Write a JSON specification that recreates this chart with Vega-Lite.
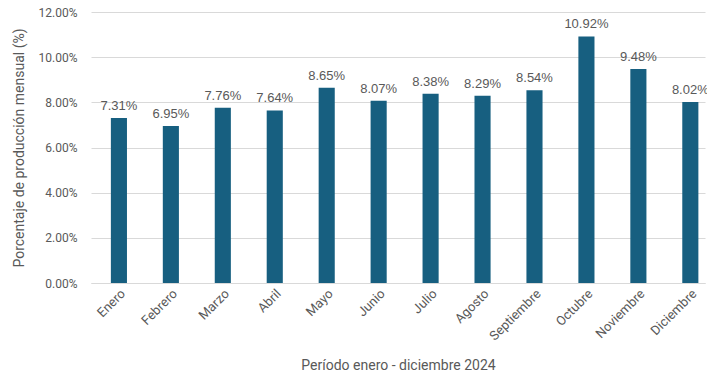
{
  "$schema": "https://vega.github.io/schema/vega-lite/v6.json",
  "width": 707,
  "height": 379,
  "autosize": {"type": "fit", "contains": "padding"},
  "padding": {"left": 12, "top": 6, "right": 0, "bottom": 6},
  "background": "white",
  "config": {
    "view": {"stroke": null},
    "font": "Roboto",
    "axis": {"labelFont": "Roboto", "titleFont": "Roboto", "labelColor": "#595959", "titleColor": "#595959", "titleFontWeight": "normal"}
  },
  "data": {
    "values": [
      {"mes": "Enero", "valor": 7.31},
      {"mes": "Febrero", "valor": 6.95},
      {"mes": "Marzo", "valor": 7.76},
      {"mes": "Abril", "valor": 7.64},
      {"mes": "Mayo", "valor": 8.65},
      {"mes": "Junio", "valor": 8.07},
      {"mes": "Julio", "valor": 8.38},
      {"mes": "Agosto", "valor": 8.29},
      {"mes": "Septiembre", "valor": 8.54},
      {"mes": "Octubre", "valor": 10.92},
      {"mes": "Noviembre", "valor": 9.48},
      {"mes": "Diciembre", "valor": 8.02}
    ]
  },
  "encoding": {
    "x": {
      "field": "mes", "type": "nominal", "sort": null,
      "scale": {"paddingInner": 0.69, "paddingOuter": 0.255, "align": 0.75},
      "axis": {
        "title": "Período enero - diciembre 2024",
        "titleFontSize": 14, "titlePadding": 16,
        "labelAngle": -45, "labelFontSize": 13, "labelAlign": "right", "labelBaseline": "top",
        "ticks": false, "domainColor": "#D9D9D9", "labelPadding": 4
      }
    },
    "y": {
      "field": "valor", "type": "quantitative",
      "scale": {"domain": [0, 12]},
      "axis": {
        "title": "Porcentaje de producción mensual (%)",
        "titleFontSize": 14, "titlePadding": 12,
        "values": [0, 2, 4, 6, 8, 10, 12],
        "labelExpr": "format(datum.value, '.2f') + '%'",
        "labelFontSize": 12, "labelPadding": 14,
        "ticks": false, "domain": false, "gridColor": "#D9D9D9"
      }
    }
  },
  "layer": [
    {"mark": {"type": "bar", "color": "#175F80"}},
    {
      "mark": {"type": "text", "dy": -12, "fontSize": 13, "color": "#595959", "font": "Liberation Sans",
        "text": {"expr": "format(datum.valor, '.2f') + '%'"}}
    }
  ]
}
